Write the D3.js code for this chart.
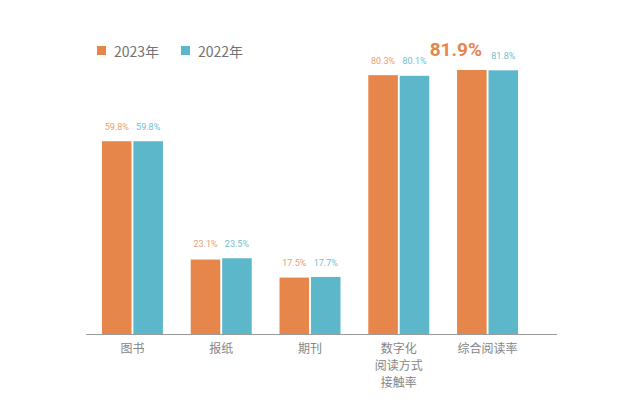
<!DOCTYPE html>
<html><head><meta charset="utf-8">
<script src="https://cdn.jsdelivr.net/npm/d3@7"></script>
<style>body{margin:0;background:#fff}svg{display:block}</style>
</head><body>
<svg id="c" width="630" height="420"></svg>
<script>
const categories = ["图书", "报纸", "期刊", "数字化\n阅读方式\n接触率", "综合阅读率"];
const series = ["2023年", "2022年"];
const values2023 = [59.8, 23.1, 17.5, 80.3, 81.9];
const values2022 = [59.8, 23.5, 17.7, 80.1, 81.8];
const valueLabels2023 = ["59.8%", "23.1%", "17.5%", "80.3%", "81.9%"];
const valueLabels2022 = ["59.8%", "23.5%", "17.7%", "80.1%", "81.8%"];

const colors = ["#E6864A", "#5CB7CA"];
const labelColors = ["#E9A06E", "#6FBFCF"];
const svg = d3.select("#c");
const baseY = 334;

const x0 = d3.scaleBand().domain(categories).range([88, 532]).paddingInner(0.313).paddingOuter(0.157);
const x1 = d3.scaleBand().domain(series).range([0, x0.bandwidth()]).paddingInner(0.06);
const y = d3.scaleLinear().domain([0, 85]).range([baseY, 60]);

const data = categories.map((c, i) => ({c, i, vals: [values2023[i], values2022[i]], labs: [valueLabels2023[i], valueLabels2022[i]]}));

const g = svg.selectAll("g.grp").data(data).enter().append("g")
  .attr("transform", d => `translate(${x0(d.c)},0)`);

g.selectAll("rect").data(d => d.vals.map((v, k) => ({v, k}))).enter().append("rect")
  .attr("x", d => x1(series[d.k]))
  .attr("y", d => y(d.v))
  .attr("width", x1.bandwidth())
  .attr("height", d => baseY - y(d.v))
  .attr("fill", d => colors[d.k]);

g.each(function(d) {
  const top = Math.min(y(d.vals[0]), y(d.vals[1]));
  const sel = d3.select(this);
  d.labs.forEach((t, k) => {
    const big = d.i === 4 && k === 0;
    sel.append("text")
      .attr("x", x1(series[k]) + x1.bandwidth() / 2 - (big ? 16 : 0))
      .attr("y", top - (big ? 14 : 11))
      .attr("text-anchor", "middle")
      .attr("font-family", "Roboto, 'DejaVu Sans', sans-serif")
      .attr("font-size", big ? 19 : 9)
      .attr("font-weight", big ? 700 : 400)
      .attr("fill", big ? colors[0] : labelColors[k])
      .text(t);
  });
});

// axis baseline
svg.append("line").attr("x1", 86).attr("x2", 557).attr("y1", baseY + 0.5).attr("y2", baseY + 0.5)
  .attr("stroke", "#9a9a9a").attr("stroke-width", 1.2);

// category labels
const cl = svg.selectAll("text.cat").data(categories).enter().append("text")
  .attr("class", "cat")
  .attr("text-anchor", "middle")
  .attr("font-family", "'Noto Sans CJK SC', sans-serif")
  .attr("font-size", 12)
  .attr("fill", "#858585");
cl.each(function(c) {
  const lines = c.split("\n");
  const t = d3.select(this);
  lines.forEach((l, j) => {
    t.append("tspan").attr("x", x0(c) + x0.bandwidth() / 2).attr("y", 353 + j * 17).text(l);
  });
});

// legend
const lg = svg.selectAll("g.leg").data(series).enter().append("g")
  .attr("transform", (d, i) => `translate(${97 + i * 84},46)`);
lg.append("rect").attr("width", 9).attr("height", 9).attr("fill", (d, i) => colors[i]);
lg.append("text").attr("x", 17).attr("y", 10.5)
  .attr("font-family", "'Noto Sans CJK SC', sans-serif")
  .attr("font-size", 14).attr("fill", "#727272").text(d => d);
</script>
</body></html>
